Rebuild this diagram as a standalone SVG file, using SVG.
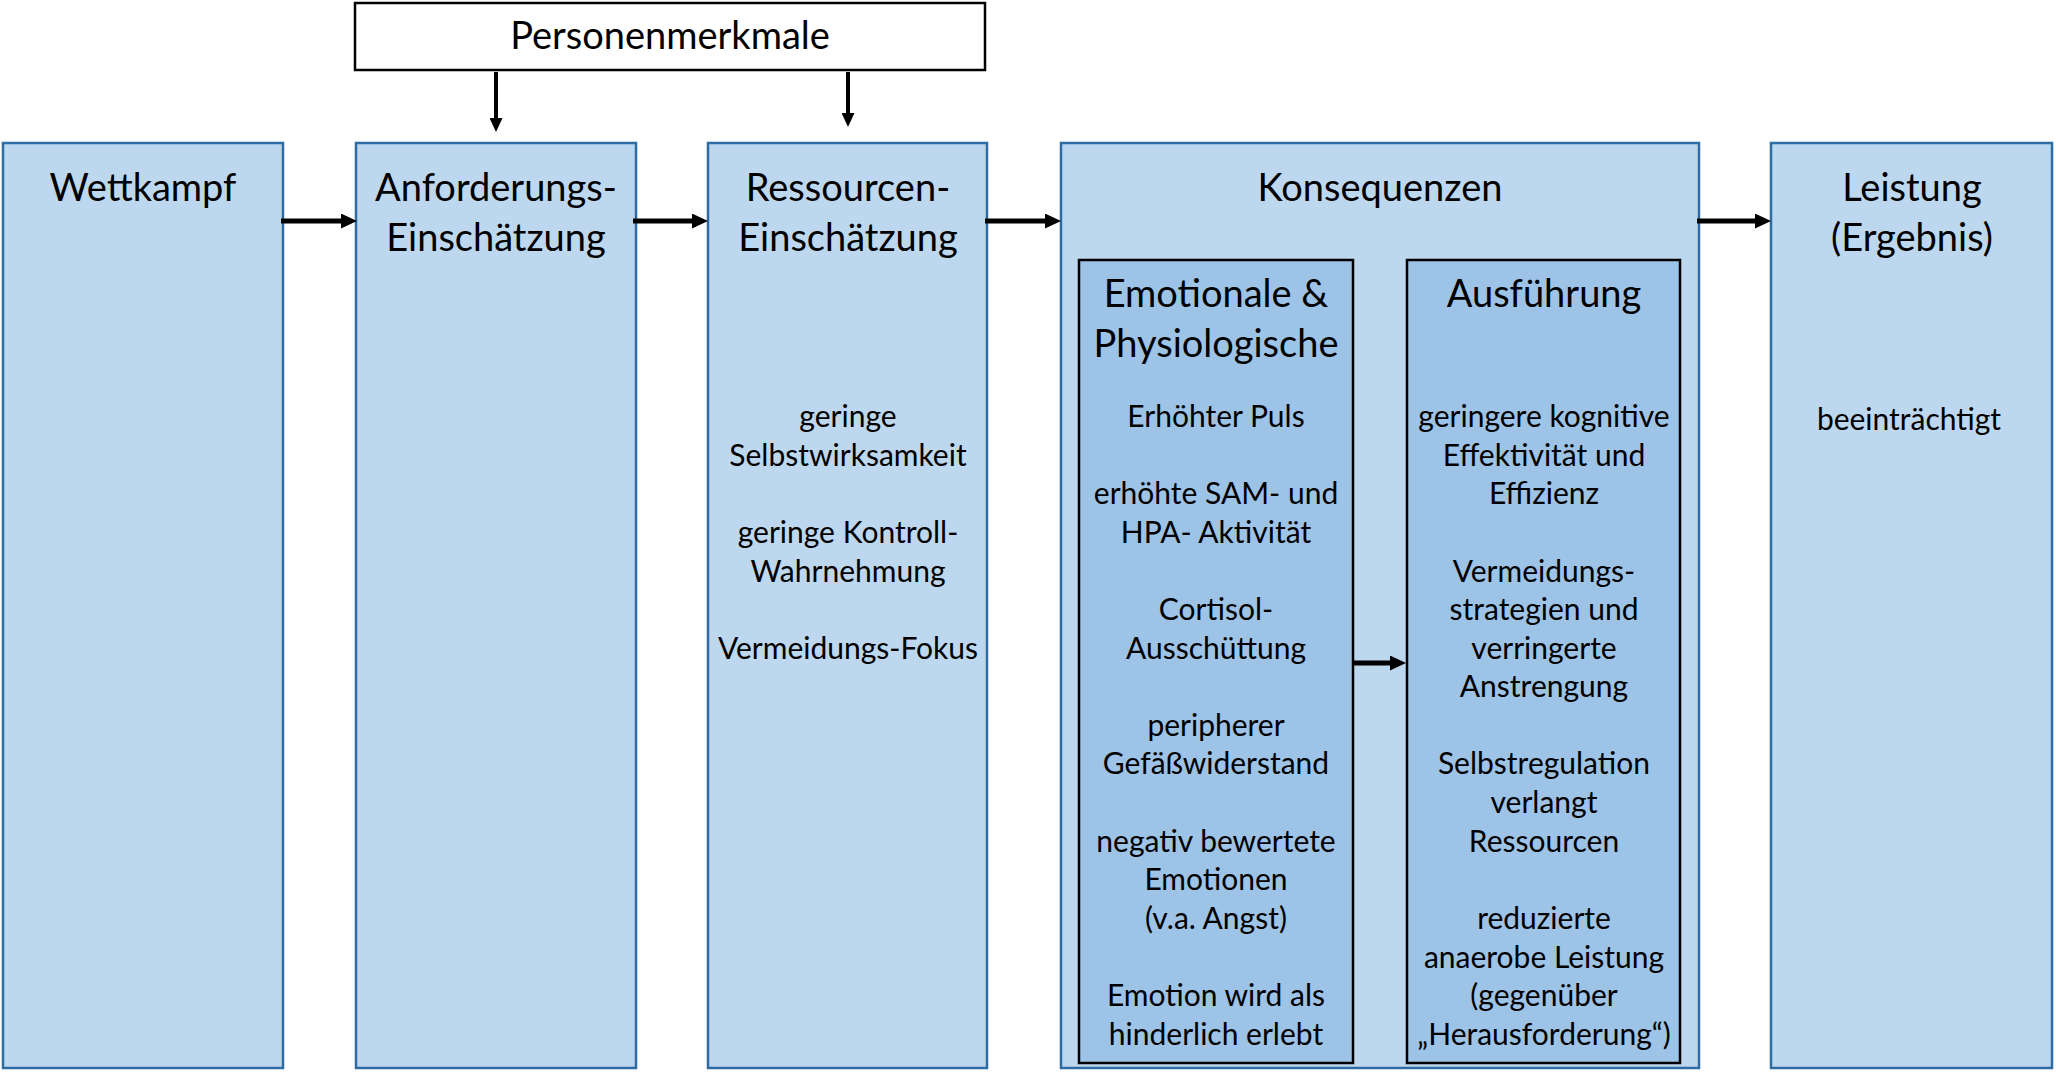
<svg xmlns="http://www.w3.org/2000/svg" width="2056" height="1072" viewBox="0 0 2056 1072">
<defs>
<style>
.box{fill:#bdd7ee;stroke:#2e6da4;stroke-width:2.5}
.inner{fill:#9dc3e6;stroke:#000;stroke-width:2.5}
.pm{fill:#fff;stroke:#000;stroke-width:2.5}
text{font-family:Lato,"Open Sans","Liberation Sans",sans-serif;fill:#000;text-anchor:middle}
.t{font-size:38px}
.b{font-size:30px}
.thick{stroke:#000;stroke-width:5;fill:none}
.thin{stroke:#000;stroke-width:4;fill:none}
</style>
<marker id="ah" markerUnits="userSpaceOnUse" viewBox="0 0 16 15" markerWidth="16" markerHeight="15" refX="2" refY="7.5" orient="auto">
<path d="M0,0 L16,7.5 L0,15 z" fill="#000"/>
</marker>
<marker id="ah2" markerUnits="userSpaceOnUse" viewBox="0 0 14 13" markerWidth="14" markerHeight="13" refX="2" refY="6.5" orient="auto">
<path d="M0,0 L14,6.5 L0,13 z" fill="#000"/>
</marker>
</defs>
<rect width="2056" height="1072" fill="#fff"/>

<g id="personenmerkmale">
<rect class="pm" x="355" y="3" width="630" height="67"/>
<text class="t" x="670" y="49">Personenmerkmale</text>
</g>

<g id="wettkampf">
<rect class="box" x="3" y="143" width="280" height="925"/>
<text class="t" x="143" y="201">Wettkampf</text>
</g>

<g id="anforderung">
<rect class="box" x="356" y="143" width="280" height="925"/>
<text class="t" x="496" y="201">Anforderungs-</text>
<text class="t" x="496" y="251">Einschätzung</text>
</g>

<g id="ressourcen">
<rect class="box" x="708" y="143" width="279" height="925"/>
<text class="t" x="848" y="201">Ressourcen-</text>
<text class="t" x="848" y="251">Einschätzung</text>
<text class="b" x="848" y="427">geringe</text>
<text class="b" x="848" y="466">Selbstwirksamkeit</text>
<text class="b" x="848" y="543">geringe Kontroll-</text>
<text class="b" x="848" y="582">Wahrnehmung</text>
<text class="b" x="848" y="659">Vermeidungs-Fokus</text>
</g>

<g id="konsequenzen">
<rect class="box" x="1061" y="143" width="638" height="925"/>
<text class="t" x="1380" y="201">Konsequenzen</text>
</g>

<g id="emotionale">
<rect class="inner" x="1079" y="260" width="274" height="803"/>
<text class="t" x="1216" y="307">Emotionale &amp;</text>
<text class="t" x="1216" y="357">Physiologische</text>
<text class="b" x="1216" y="427">Erhöhter Puls</text>
<text class="b" x="1216" y="504">erhöhte SAM- und</text>
<text class="b" x="1216" y="543">HPA- Aktivität</text>
<text class="b" x="1216" y="620">Cortisol-</text>
<text class="b" x="1216" y="659">Ausschüttung</text>
<text class="b" x="1216" y="736">peripherer</text>
<text class="b" x="1216" y="774">Gefäßwiderstand</text>
<text class="b" x="1216" y="852">negativ bewertete</text>
<text class="b" x="1216" y="890">Emotionen</text>
<text class="b" x="1216" y="929">(v.a. Angst)</text>
<text class="b" x="1216" y="1006">Emotion wird als</text>
<text class="b" x="1216" y="1045">hinderlich erlebt</text>
</g>

<g id="ausfuehrung">
<rect class="inner" x="1407" y="260" width="273" height="803"/>
<text class="t" x="1544" y="307">Ausführung</text>
<text class="b" x="1544" y="427">geringere kognitive</text>
<text class="b" x="1544" y="466">Effektivität und</text>
<text class="b" x="1544" y="504">Effizienz</text>
<text class="b" x="1544" y="582">Vermeidungs-</text>
<text class="b" x="1544" y="620">strategien und</text>
<text class="b" x="1544" y="659">verringerte</text>
<text class="b" x="1544" y="697">Anstrengung</text>
<text class="b" x="1544" y="774">Selbstregulation</text>
<text class="b" x="1544" y="813">verlangt</text>
<text class="b" x="1544" y="852">Ressourcen</text>
<text class="b" x="1544" y="929">reduzierte</text>
<text class="b" x="1544" y="968">anaerobe Leistung</text>
<text class="b" x="1544" y="1006">(gegenüber</text>
<text class="b" x="1544" y="1045">„Herausforderung“)</text>
</g>

<g id="leistung">
<rect class="box" x="1771" y="143" width="281" height="925"/>
<text class="t" x="1912" y="201">Leistung</text>
<text class="t" x="1912" y="251">(Ergebnis)</text>
<text class="b" x="1909" y="430">beeinträchtigt</text>
</g>

<g id="connectors">
<line class="thin" x1="496" y1="72" x2="496" y2="120" marker-end="url(#ah2)"/>
<line class="thin" x1="848" y1="72" x2="848" y2="115" marker-end="url(#ah2)"/>
<line class="thick" x1="281" y1="221" x2="343" y2="221" marker-end="url(#ah)"/>
<line class="thick" x1="633" y1="221" x2="694" y2="221" marker-end="url(#ah)"/>
<line class="thick" x1="985" y1="221" x2="1047" y2="221" marker-end="url(#ah)"/>
<line class="thick" x1="1697" y1="221" x2="1757" y2="221" marker-end="url(#ah)"/>
<line class="thick" x1="1353" y1="663" x2="1392" y2="663" marker-end="url(#ah)"/>
</g>
</svg>
